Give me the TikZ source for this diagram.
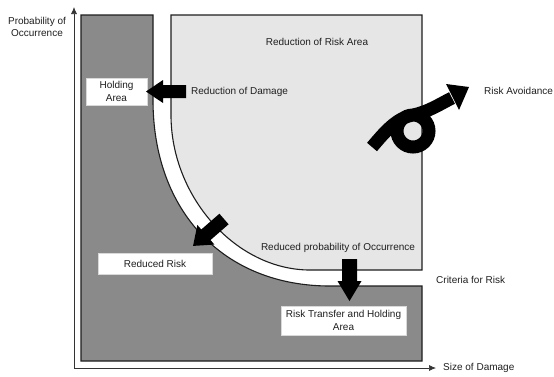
\documentclass[tikz,border=0pt]{standalone}
\usepackage{fontspec}
\setmainfont{Liberation Sans}
\usetikzlibrary{arrows.meta}
\definecolor{darkzone}{HTML}{8A8A8A}
\definecolor{lightzone}{HTML}{E6E6E6}
\definecolor{edge}{HTML}{1E1E1E}
\tikzset{
  zone/.style={draw=edge, line width=1.1pt, line join=miter},
  axis/.style={draw=black!80, line width=0.7pt, -{Latex[length=7pt,width=6pt]}},
  lbl/.style={font=\fontsize{10}{12}\selectfont, inner sep=0pt, text=black!88},
  whitebox/.style={fill=white, draw=black!15, line width=0.4pt, align=center,
    font=\fontsize{10}{12.5}\selectfont, inner sep=0pt, text=black!88},
  pics/blockarrow/.style n args={4}{code={
    \fill[black] (0,-#2) -- (#3,-#2) -- (#3,-#4) -- (#1,0) -- (#3,#4) -- (#3,#2) -- (0,#2) -- cycle;}},
}
\begin{document}
\begin{tikzpicture}[x=1pt,y=-1pt]
\useasboundingbox (0,0) rectangle (554,376);

% axes
\coordinate (origin) at (74,368);
\coordinate (ytop) at (74,7);
\coordinate (xend) at (436,368);
\draw[axis] (origin) -- (ytop);
\draw[axis] (origin) -- (xend);

% light zone: reduction of risk area
\path[zone, fill=lightzone] (171,15) -- (422,15) -- (422,270) -- (310,270)
  .. controls (236.3,270) and (171,197.2) .. (171,115) -- cycle;

% dark zone: holding / transfer area
\path[zone, fill=darkzone] (81,15) -- (153,15) -- (153,100)
  .. controls (153,211.6) and (223.8,286) .. (330,286)
  -- (422,286) -- (422,361) -- (81,361) -- cycle;

% white label boxes
\node[whitebox, minimum width=61pt, minimum height=27pt] (hold) at (116.5,91.5) {Holding\\Area};
\node[whitebox, minimum width=114pt, minimum height=21pt] (reduced) at (155,263.5) {Reduced Risk};
\node[whitebox, minimum width=125pt, minimum height=29pt] (transfer) at (343.5,320.5) {Risk Transfer and Holding\\Area};

% block arrows
\pic[rotate=180] at (186,91.5) {blockarrow={40}{6.5}{23}{11.5}};
\pic[rotate=221] at (224,219) {blockarrow={41}{7}{24}{13}};
\pic[rotate=270] at (349.5,259) {blockarrow={42}{7.5}{22}{12}};

% curly avoidance arrow
\draw[line width=13pt, line cap=butt] (372,147) .. controls (384,133) and (396,118) .. (413,115)
  arc[start angle=-90, end angle=270, radius=16]
  .. controls (428,112) and (440,104) .. (452,98);
\fill (446,84) -- (469,87) -- (459,110) -- cycle;

% labels
\node[lbl, align=center] (ylab) at (37,27) {Probability of\\Occurrence};
\node[lbl] (riskarea) at (317,42) {Reduction of Risk Area};
\node[lbl, anchor=west] (damage) at (191,91.5) {Reduction of Damage};
\node[lbl, anchor=west] (avoid) at (484,91) {Risk Avoidance};
\node[lbl] (prob) at (338,248) {Reduced probability of Occurrence};
\node[lbl, anchor=west] (criteria) at (436,280) {Criteria for Risk};
\node[lbl, anchor=west] (xlab) at (443,368) {Size of Damage};
\end{tikzpicture}
\end{document}
